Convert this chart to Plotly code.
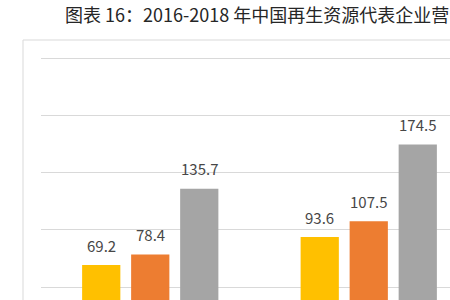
import plotly.graph_objects as go

# Data (x-axis labels and legend are cropped out of view)
categories = ["企业A", "企业B"]
series_names = ["2016", "2017", "2018"]
values_2016 = [69.2, 93.6]
values_2017 = [78.4, 107.5]
values_2018 = [135.7, 174.5]
colors = ["#FFC000", "#ED7D31", "#A5A5A5"]
title_text = "图表 16：2016-2018 年中国再生资源代表企业营"

series_values = [values_2016, values_2017, values_2018]

W, H = 450, 300
plot_left, plot_top = 41, 50
plot_w, plot_h = W - plot_left, H - plot_top
px_per_cat = 218.5
px_per_unit = 1.145
y_top = 250 + 8 / px_per_unit
y_bottom = y_top - plot_h / px_per_unit
x_left = -0.5
x_right = x_left + plot_w / px_per_cat

bargap = 0.327
bargroupgap = 0.22

fig = go.Figure()
for name, vals, col in zip(series_names, series_values, colors):
    fig.add_trace(go.Bar(x=categories, y=vals, name=name, marker=dict(color=col, line=dict(width=0))))

annotations = []
slot = (1 - bargap) / len(series_names)
for i, vals in enumerate(series_values):
    off = -(1 - bargap) / 2 + slot * (i + 0.5)
    for j, v in enumerate(vals):
        annotations.append(dict(
            x=j + off, y=v, xref="x", yref="y", text=f"{v:.1f}", showarrow=False,
            yanchor="middle", yshift=20,
            font=dict(family="Noto Sans CJK SC", size=15, color="#474747"),
        ))

annotations.append(dict(
    x=(63 - plot_left) / plot_w, y=(H - 14) / plot_h, xref="paper", yref="paper",
    text=title_text, showarrow=False, xanchor="left", yanchor="middle",
    font=dict(family="Noto Sans CJK SC", size=18, color="#262626"),
))

fig.update_layout(
    width=W, height=H,
    margin=dict(l=plot_left, r=0, t=plot_top, b=0),
    paper_bgcolor="white", plot_bgcolor="white",
    barmode="group", bargap=bargap, bargroupgap=bargroupgap,
    showlegend=False,
    annotations=annotations,
    xaxis=dict(range=[x_left, x_right], showticklabels=False, showgrid=False,
               zeroline=False, showline=False, ticks=""),
    yaxis=dict(range=[y_bottom, y_top], tick0=0, dtick=50, showticklabels=False,
               showgrid=True, gridcolor="#D9D9D9", gridwidth=1, zeroline=False,
               showline=False, ticks=""),
    shapes=[dict(type="rect", xref="paper", yref="paper",
                 x0=(23 - plot_left) / plot_w, x1=1.3,
                 y0=-0.2, y1=(H - 40) / plot_h,
                 line=dict(color="#D9D9D9", width=1), fillcolor="rgba(0,0,0,0)",
                 layer="below")],
)

fig.write_html("out.html")
